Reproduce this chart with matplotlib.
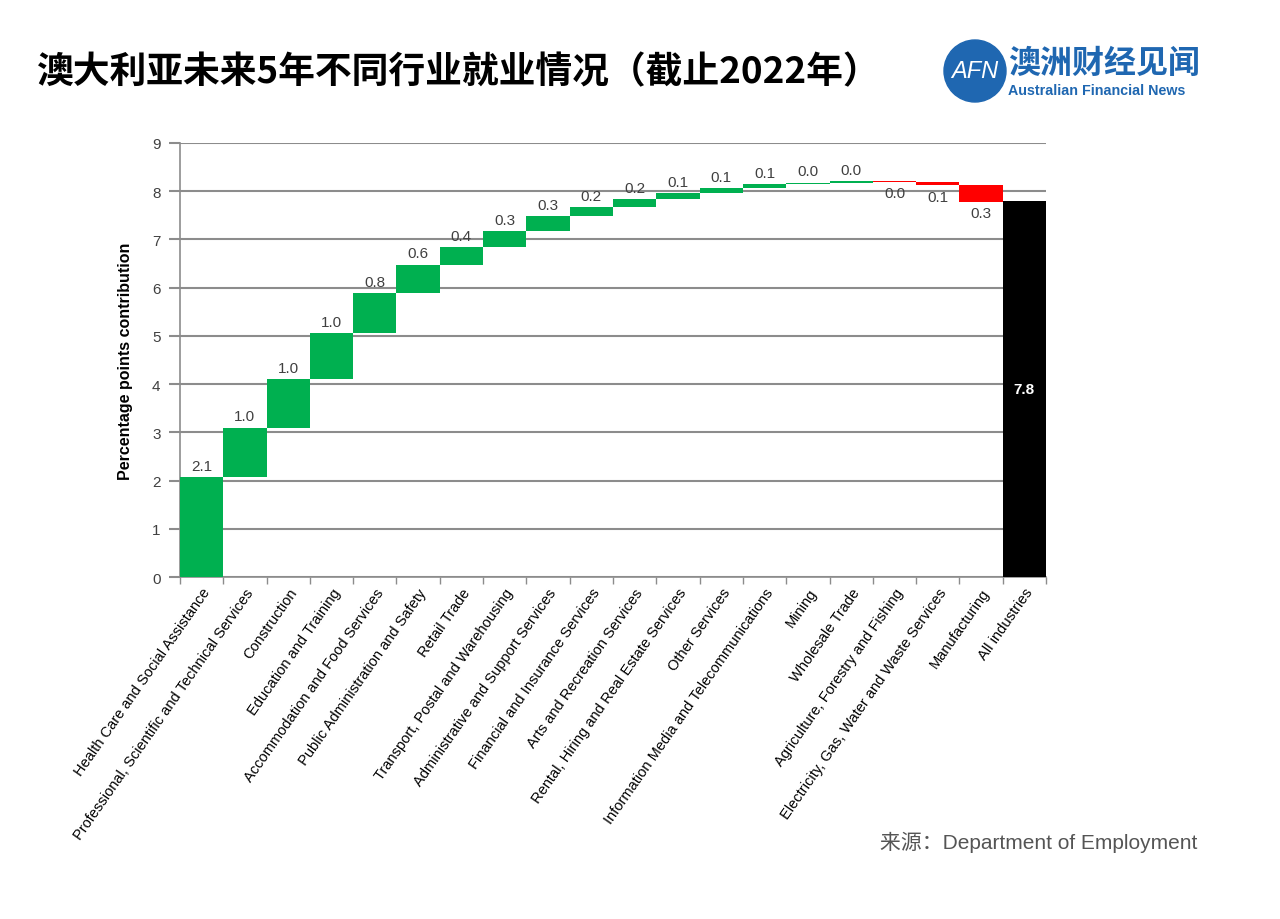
import matplotlib
matplotlib.use('Agg')
import matplotlib.pyplot as plt
from matplotlib.patches import Ellipse
import numpy as np

plt.rcParams['font.family'] = ['Liberation Sans', 'Noto Sans CJK SC', 'DejaVu Sans']

industries = [
    'Health Care and Social Assistance',
    'Professional, Scientific and Technical Services',
    'Construction',
    'Education and Training',
    'Accommodation and Food Services',
    'Public Administration and Safety',
    'Retail Trade',
    'Transport, Postal and Warehousing',
    'Administrative and Support Services',
    'Financial and Insurance Services',
    'Arts and Recreation Services',
    'Rental, Hiring and Real Estate Services',
    'Other Services',
    'Information Media and Telecommunications',
    'Mining',
    'Wholesale Trade',
    'Agriculture, Forestry and Fishing',
    'Electricity, Gas, Water and Waste Services',
    'Manufacturing',
]
contrib = [2.07, 1.03, 1.00, 0.96, 0.82, 0.60, 0.37, 0.33, 0.30, 0.19,
           0.17, 0.12, 0.10, 0.08, 0.04, 0.03, -0.02, -0.07, -0.34]
total_label = 'All industries'
total_value = 7.8

GREEN = '#00b050'
RED = '#ff0000'
GRID = '#8c8c8c'
TXT = '#404040'

fig = plt.figure(figsize=(12.8, 9.2), dpi=100)
ax = fig.add_axes([0.1406, 0.3717, 0.6766, 0.4718])

start = 0.0
for i, v in enumerate(contrib):
    end = start + v
    color = GREEN if v >= 0 else RED
    ax.bar(i, abs(v), bottom=min(start, end), width=1.0, color=color,
           edgecolor='none', zorder=3)
    if v >= 0:
        ax.annotate(format(abs(v), '.1f'), (i, end), xytext=(0, 3),
                    textcoords='offset points', ha='center', va='bottom',
                    fontsize=11, color=TXT, zorder=4)
    else:
        ax.annotate(format(abs(v), '.1f'), (i, end), xytext=(0, -3),
                    textcoords='offset points', ha='center', va='top',
                    fontsize=11, color=TXT, zorder=4)
    start = end

n = len(contrib)
ax.bar(n, total_value, width=1.0, color='black', edgecolor='none', zorder=3)
ax.text(n, total_value / 2, format(total_value, '.1f'), ha='center',
        va='center', color='white', fontsize=11, fontweight='bold', zorder=4)

labels = industries + [total_label]
ax.set_xlim(-0.5, n + 0.5)
ax.set_ylim(0, 9)
ax.set_yticks(np.arange(0, 10, 1))
ax.set_xticks(np.arange(len(labels)))
ax.set_xticklabels(labels, rotation=55, ha='right', va='top',
                   rotation_mode='anchor', fontsize=10.5, color='black')
ax.set_xticks(np.arange(-0.5, n + 1, 1), minor=True)
ax.tick_params(axis='x', which='major', length=0, pad=6)
ax.tick_params(axis='x', which='minor', length=5, color=GRID, width=1)
ax.tick_params(axis='y', length=8, color=GRID, width=1.5, labelsize=11,
               labelcolor=TXT, pad=6)

ax.grid(axis='y', color=GRID, linewidth=1.5, zorder=0)
for s in ['top', 'right']:
    ax.spines[s].set_visible(False)
for s in ['left', 'bottom']:
    ax.spines[s].set_color(GRID)
    ax.spines[s].set_linewidth(1.2)

ax.set_ylabel('Percentage points contribution', fontsize=11.5,
              fontweight='bold', labelpad=14)

fig.text(0.029, 0.921, '澳大利亚未来5年不同行业就业情况（截止2022年）',
         fontsize=26.5, fontweight='bold', va='center', ha='left',
         family=['Noto Sans CJK SC', 'DejaVu Sans'])

# logo
blue = '#1f67b1'
fig.patches.append(Ellipse((975 / 1280, 1 - 72 / 920), 62 / 1280, 62 / 920,
                           transform=fig.transFigure, color=blue))
fig.text(975 / 1280, 1 - 72 / 920, 'AFN', color='white', fontsize=17,
         ha='center', va='center', style='italic')
fig.text(1008 / 1280, 1 - 64 / 920, '澳洲财经见闻', color=blue, fontsize=23,
         ha='left', va='center', fontweight='bold',
         family=['Noto Sans CJK SC', 'DejaVu Sans'])
fig.text(1008 / 1280, 1 - 91 / 920, 'Australian Financial News', color=blue,
         fontsize=10.3, ha='left', va='center', fontweight='bold')

fig.text(1197 / 1280, 1 - 842 / 920, '来源：Department of Employment',
         color='#555555', fontsize=15, ha='right', va='center',
         family=['Liberation Sans', 'Noto Sans CJK SC'])

fig.savefig('out.png', dpi=100)
